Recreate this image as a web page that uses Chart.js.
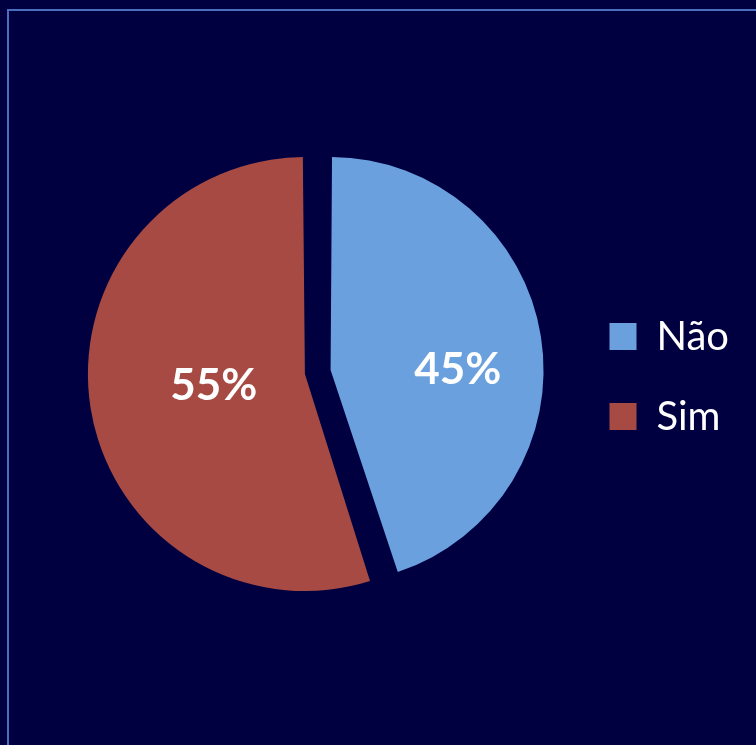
<!DOCTYPE html>
<html>
<head>
<meta charset="utf-8">
<script src="https://cdn.jsdelivr.net/npm/chart.js@4/dist/chart.umd.min.js"></script>
<style>
  html, body { margin: 0; padding: 0; background: #000040; overflow: hidden; }
  #wrap { position: relative; width: 756px; height: 745px; }
  #frame { position: absolute; left: 7px; top: 9px; width: 800px; height: 800px; border: 2px solid #4A6DBE; box-sizing: border-box; }
  canvas { position: absolute; left: 0; top: 0; }
</style>
</head>
<body>
<div id="wrap">
  <div id="frame"></div>
  <canvas id="chart" width="756" height="745"></canvas>
</div>
<script>
// data
const categories = ["Não", "Sim"];
const values = [45, 55];
const sliceColors = ["#6AA0DD", "#A74A43"];

// where each percentage sits, as a fraction of the radius from the pie centre
const labelSpots = [[0.686, -0.02], [-0.51, 0.059]];

const pctLabels = {
  id: "pctLabels",
  afterDatasetsDraw(chart) {
    const ctx = chart.ctx;
    const meta = chart.getDatasetMeta(0);
    const total = values.reduce((a, b) => a + b, 0);
    const size = 44;
    ctx.save();
    ctx.font = "bold " + size + "px Lato";
    ctx.fillStyle = "#FFFFFF";
    ctx.textAlign = "center";
    ctx.textBaseline = "alphabetic";
    meta.data.forEach((arc, i) => {
      const r = arc.outerRadius;
      const x = arc.x + labelSpots[i][0] * r;
      const y = arc.y + labelSpots[i][1] * r;
      const txt = Math.round(values[i] / total * 100) + "%";
      ctx.fillText(txt, x, y + size * 0.36);
    });
    ctx.restore();
  }
};

new Chart(document.getElementById("chart"), {
  type: "pie",
  data: {
    labels: categories,
    datasets: [{
      data: values,
      backgroundColor: sliceColors,
      borderWidth: 0,
      offset: 52,
      radius: 204
    }]
  },
  options: {
    responsive: false,
    animation: false,
    layout: { padding: { left: 66, right: 17, top: 143, bottom: 144 } },
    plugins: {
      tooltip: { enabled: false },
      legend: {
        position: "right",
        // empty title only nudges the entries down a little
        title: { display: true, text: "", padding: 4, font: { size: 1 } },
        labels: {
          color: "#FFFFFF",
          boxWidth: 27,
          boxHeight: 27,
          padding: 40,
          font: { family: "Lato", size: 40 }
        }
      }
    }
  },
  plugins: [pctLabels]
});
</script>
</body>
</html>
